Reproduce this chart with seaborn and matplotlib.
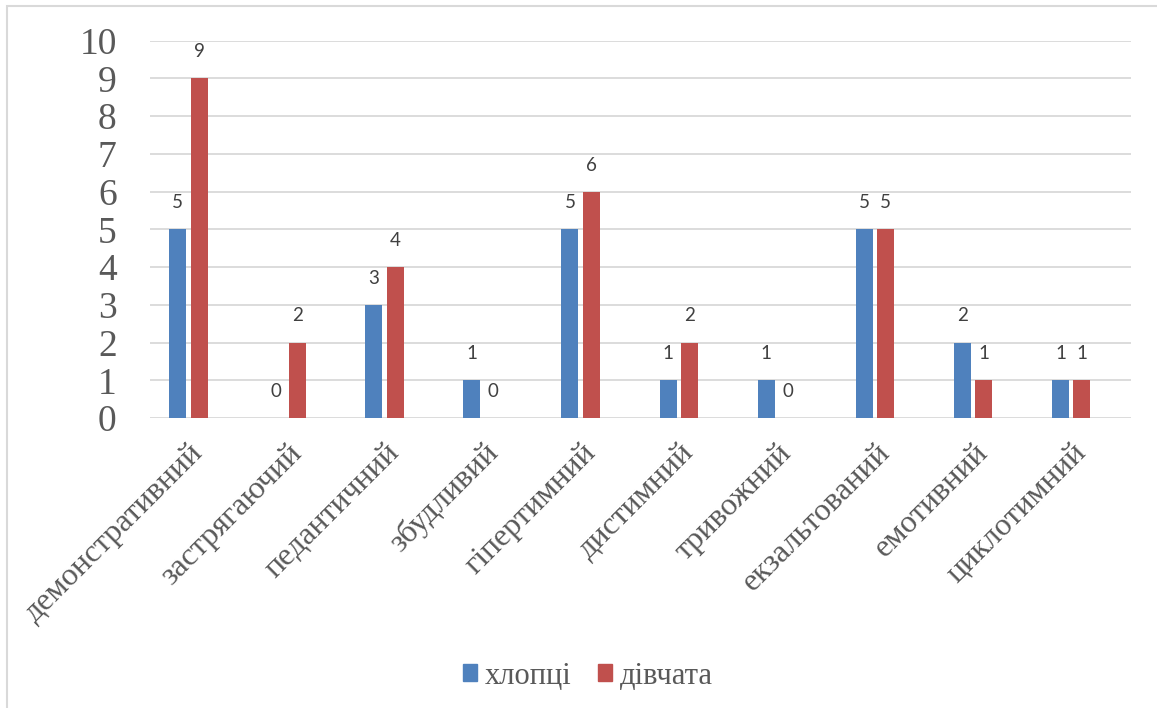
import pandas as pd
import matplotlib
matplotlib.use('Agg')
import matplotlib.pyplot as plt
import seaborn as sns
from matplotlib.patches import Rectangle, Patch

# Дані
categories = ['демонстративний', 'застрягаючий', 'педантичний', 'збудливий', 'гіпертимний',
              'дистимний', 'тривожний', 'екзальтований', 'емотивний', 'циклотимний']
boys = [5, 0, 3, 1, 5, 1, 1, 5, 2, 1]
girls = [9, 2, 4, 0, 6, 2, 0, 5, 1, 1]
series_names = ['хлопці', 'дівчата']
y_ticks = list(range(0, 11))

df = pd.DataFrame({
    'cat': categories * 2,
    'value': boys + girls,
    'group': [series_names[0]] * len(categories) + [series_names[1]] * len(categories),
})

sns.set_style('white')
plt.rcParams['font.family'] = ['Liberation Serif', 'DejaVu Serif']

colors = {'хлопці': '#4F81BD', 'дівчата': '#C0504D', ' ': '#9BBB59'}

fig = plt.figure(figsize=(11.57, 7.08), dpi=100)
ax = fig.add_axes([150 / 1157, 1 - 418 / 708, (1131 - 150) / 1157, (418 - 40.7) / 708])

# третій порожній ряд займає місце, як в оригіналі
sns.barplot(data=df, x='cat', y='value', hue='group', hue_order=series_names + [' '],
            order=categories, palette=colors, saturation=1, width=0.657, gap=0.21, ax=ax,
            legend=False, errorbar=None, linewidth=0)

ax.set_ylim(0, 10)
ax.set_xlim(-0.5, len(categories) - 0.5)
ax.set_yticks(y_ticks)
ax.grid(axis='y', color='#D9D9D9', linewidth=1.3)
ax.set_axisbelow(True)
for s in ax.spines.values():
    s.set_visible(False)
ax.set_xlabel('')
ax.set_ylabel('')
ax.tick_params(axis='y', length=0, pad=24, labelsize=27, labelcolor='#595959')
ax.tick_params(axis='x', length=0, pad=22, labelsize=23, labelcolor='#595959')
for lbl in ax.get_xticklabels():
    lbl.set_rotation(45)
    lbl.set_ha('right')
    lbl.set_va('center')
    lbl.set_rotation_mode('anchor')

for cont in ax.containers[:2]:
    ax.bar_label(cont, fmt='%d', padding=13, fontsize=13.5, color='#404040', family='Lato')

handles = [Patch(color=colors[n]) for n in series_names]
fig.legend(handles, series_names, loc='center', bbox_to_anchor=(588 / 1157, 1 - 676 / 708),
           ncol=2, frameon=False, fontsize=22, labelcolor='#595959',
           handlelength=0.47, handleheight=0.47, handletextpad=0.25, columnspacing=0.85)

fig.patches.append(Rectangle((7 / 1157, -0.05), 1.1, 1 - 6 / 708 + 0.05, transform=fig.transFigure,
                             fill=False, edgecolor='#D9D9D9', linewidth=1.5))

fig.savefig('out.png', dpi=100)
